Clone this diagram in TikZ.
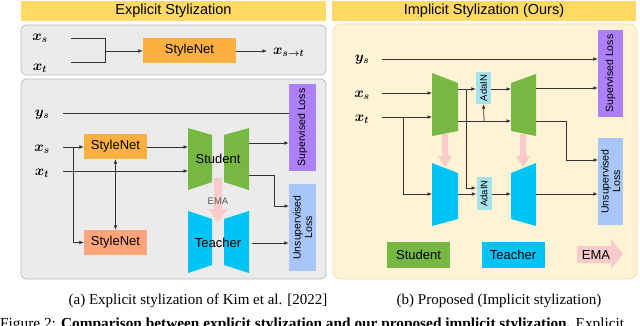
\documentclass[tikz,border=0pt]{standalone}
\usepackage{fontspec}
\setmainfont{Liberation Serif}
\setsansfont{Liberation Sans}
\usepackage{bm}
\usetikzlibrary{arrows.meta}
\definecolor{titleyellow}{HTML}{FFD966}
\definecolor{panelgray}{HTML}{EBEBEB}
\definecolor{panelgrayline}{HTML}{BDBDBD}
\definecolor{panelcream}{HTML}{FFF3D6}
\definecolor{panelcreamline}{HTML}{F7E0A6}
\definecolor{snorange}{HTML}{FBB040}
\definecolor{snsalmon}{HTML}{FFA57C}
\definecolor{stugreen}{HTML}{77B843}
\definecolor{teacyan}{HTML}{00C4F6}
\definecolor{suppurple}{HTML}{AC80F8}
\definecolor{unsblue}{HTML}{A8C6FA}
\definecolor{adacyan}{HTML}{A6E2EC}
\definecolor{emapink}{HTML}{F8CACA}
\definecolor{linecol}{HTML}{333333}
\begin{document}
\begin{tikzpicture}[x=1pt,y=-1pt,
  conn/.style={draw=linecol,line width=0.75pt},
  arr/.style={conn,-{Latex[length=4.5pt,width=3.8pt]}},
  darr/.style={conn,{Latex[length=4.5pt,width=3.8pt]}-{Latex[length=4.5pt,width=3.8pt]}},
  titlebar/.style={rectangle,fill=titleyellow,minimum width=305pt,minimum height=20pt,inner sep=0pt,font=\sffamily\fontsize{14.5}{16}\selectfont},
  mlbl/.style={inner sep=0pt,font=\fontsize{14}{16}\selectfont},
  snbox/.style={rectangle,minimum width=63pt,minimum height=25pt,inner sep=0pt,font=\sffamily\fontsize{13}{15}\selectfont},
  lossbox/.style={rectangle,rotate=90,minimum width=87pt,inner sep=0pt,align=center,font=\sffamily\fontsize{10.5}{11.5}\selectfont},
  adabox/.style={rectangle,rotate=90,fill=adacyan,minimum width=32pt,minimum height=15pt,inner sep=0pt,font=\sffamily\fontsize{9.5}{10}\selectfont},
  nettext/.style={inner sep=0pt,font=\sffamily\fontsize{13}{15}\selectfont},
  legbox/.style={rectangle,minimum width=63pt,minimum height=26pt,inner sep=0pt,font=\sffamily\fontsize{13}{15}\selectfont},
  captext/.style={anchor=base,inner sep=0pt,font=\fontsize{15}{18}\selectfont}
]
\useasboundingbox (0,0) rectangle (640,326);
\clip (0,0) rectangle (640,326);
\fill[white] (0,0) rectangle (640,326);

%% ---------------- Left: explicit stylization ----------------
\node[titlebar] (t1) at (173.5,11) {Explicit Stylization};
\draw[fill=panelgray,draw=panelgrayline,line width=0.8pt,rounded corners=5pt] (21,25) rectangle (326,75);

\node[mlbl] (xs1) at (40,38) {$\bm{x_s}$};
\node[mlbl] (xt1) at (40,68) {$\bm{x_t}$};
\coordinate (xs1s) at (71,38);
\coordinate (xt1s) at (71,62);
\coordinate (j1) at (105,51);
\node[snbox,fill=snorange,minimum width=93pt] (sn0) at (189.5,50.5) {StyleNet};
\node[mlbl,anchor=west] (xst) at (273,52) {$\bm{x_{s\rightarrow t}}$};
\coordinate (xstin) at (267,51);
\draw[conn] (xs1s) -- (105,38) -- (105,62) -- (xt1s);
\draw[arr] (j1) -- (sn0.west |- j1);
\draw[arr] (sn0.east |- xstin) -- (xstin);

\draw[fill=panelgray,draw=panelgrayline,line width=0.8pt,rounded corners=5pt] (21,79) rectangle (326,279);

\node[mlbl] (ys2) at (42,115) {$\bm{y_s}$};
\node[mlbl] (xs2) at (42,149) {$\bm{x_s}$};
\node[mlbl] (xt2) at (42,173) {$\bm{x_t}$};

\node[lossbox,fill=suppurple,minimum height=27pt] (sl1) at (302.5,127.5) {Supervised Loss};
\node[lossbox,fill=unsblue,minimum height=27pt] (ul1) at (302.5,227.5) {Unsupervised\\Loss};

\node[snbox,fill=snorange] (sn1) at (115.5,146.5) {StyleNet};
\node[snbox,fill=snsalmon] (sn2) at (115.5,242.5) {StyleNet};

% student / teacher trapezoids
\fill[stugreen] (188,128) -- (212,135) -- (212,182) -- (188,190) -- cycle;
\fill[stugreen] (224,135) -- (249,128) -- (249,190) -- (224,182) -- cycle;
\fill[teacyan] (188,211) -- (212,219) -- (212,265) -- (188,273) -- cycle;
\fill[teacyan] (224,219) -- (249,211) -- (249,273) -- (224,265) -- cycle;
% EMA arrow
\fill[emapink] (214,178) -- (222,178) -- (222,209) -- (227,209) -- (218,223) -- (209,209) -- (214,209) -- cycle;
\node[nettext] (stu1) at (218,159) {Student};
\node[nettext] (tea1) at (218,243) {Teacher};
\node[inner sep=0pt,font=\sffamily\fontsize{9.5}{10}\selectfont,text=black!65] (ema1) at (218,201) {EMA};

\coordinate (ys2s) at (63,113);
\coordinate (xs2s) at (63,147);
\coordinate (xt2s) at (63,171);
\coordinate (br1) at (73,147);
\coordinate (stuin1) at (188,147);
\coordinate (stuin2) at (188,171);
\coordinate (so1) at (249,143);
\coordinate (so2) at (249,175);
\coordinate (to1) at (252,243);
\draw[conn] (ys2s) -- (ys2s -| sl1.north);
\draw[arr] (xs2s) -- (xs2s -| sn1.west);
\draw[arr] (br1) |- (br1 |- sn2.west) -- (sn2.west);
\draw[darr] (sn1.south) -- (sn2.north);
\draw[arr] (sn1.east |- stuin1) -- (stuin1);
\draw[arr] (xt2s) -- (stuin2);
\draw[arr] (so1) -- (so1 -| sl1.north);
\draw[arr] (so2) -- (274,175) -- (274,206) -- (289,206);
\draw[arr] (to1) -- (to1 -| ul1.north);

%% ---------------- Right: implicit stylization ----------------
\node[titlebar,minimum width=304pt] (t2) at (484,11) {Implicit Stylization (Ours)};
\draw[fill=panelcream,draw=panelcreamline,line width=0.8pt,rounded corners=8pt] (333,24) rectangle (637,279);

\node[mlbl] (ys3) at (362,60) {$\bm{y_s}$};
\node[mlbl] (xs3) at (362,95) {$\bm{x_s}$};
\node[mlbl] (xt3) at (362,119) {$\bm{x_t}$};

\node[lossbox,fill=suppurple,minimum height=25pt] (sl2) at (610.5,73.5) {Supervised Loss};
\node[lossbox,fill=unsblue,minimum height=25pt] (ul2) at (610.5,181.5) {Unsupervised\\Loss};

% EMA arrows
\fill[emapink] (442,134) -- (448,134) -- (448,156) -- (452,156) -- (445,167) -- (438,156) -- (442,156) -- cycle;
\fill[emapink] (520,134) -- (526,134) -- (526,156) -- (530,156) -- (523,167) -- (516,156) -- (520,156) -- cycle;

% encoders / decoders
\fill[stugreen] (432,73) -- (458,83) -- (458,131) -- (432,136) -- cycle;
\fill[stugreen] (511,83) -- (536,74) -- (536,136) -- (511,131) -- cycle;
\fill[teacyan] (432,163) -- (458,173) -- (458,219) -- (432,226) -- cycle;
\fill[teacyan] (511,173) -- (536,163) -- (536,226) -- (511,219) -- cycle;

\node[adabox] (ada1) at (483.5,88) {AdaIN};
\node[adabox] (ada2) at (484,193.5) {AdaIN};

\coordinate (ys3s) at (382,59);
\coordinate (xs3s) at (382,93);
\coordinate (xt3s) at (382,117);
\coordinate (br3) at (403,117);
\coordinate (enc1in1) at (432,93);
\coordinate (enc1in2) at (432,117);
\coordinate (enc2in) at (432,194);
\coordinate (enc1o1) at (458,89);
\coordinate (br4) at (466,89);
\coordinate (enc1o2) at (458,121);
\coordinate (br5) at (484,121);
\coordinate (dec1in1) at (511,89);
\coordinate (dec1in2) at (511,121);
\coordinate (dec1o1) at (536,88);
\coordinate (dec1o2) at (536,121);
\coordinate (enc2o) at (458,194);
\coordinate (dec2in) at (511,194);
\coordinate (dec2o) at (536,194);

\draw[arr] (ys3s) -- (ys3s -| sl2.north);
\draw[arr] (xs3s) -- (enc1in1);
\draw[arr] (xt3s) -- (enc1in2);
\draw[arr] (br3) |- (enc2in);
\draw[arr] (enc1o1) -- (enc1o1 -| ada1.north);
\draw[arr] (br4) |- (476,188);
\draw[arr] (enc1o2) -- (dec1in2);
\draw[arr] (br5) -- (ada1.west);
\draw[arr] (ada1.south |- dec1in1) -- (dec1in1);
\draw[arr] (dec1o1) -- (dec1o1 -| sl2.north);
\draw[arr] (dec1o2) -- (566,121) -- (566,160) -- (598,160);
\draw[arr] (enc2o) -- (enc2o -| ada2.north);
\draw[arr] (ada2.south |- dec2in) -- (dec2in);
\draw[arr] (dec2o) -- (dec2o -| ul2.north);

% legend
\node[legbox,fill=stugreen] (legs) at (418.5,255) {Student};
\node[legbox,fill=teacyan] (legt) at (513,255) {Teacher};
\fill[emapink] (577,246) -- (611,246) -- (611,239) -- (623,254) -- (611,269) -- (611,263) -- (577,263) -- cycle;
\node[nettext] (lege) at (596,255) {EMA};

%% ---------------- captions ----------------
\node[captext] (capa) at (198,304) {(a) Explicit stylization of Kim et al. [2022]};
\node[captext] (capb) at (499,304) {(b) Proposed (Implicit stylization)};
\node[anchor=base west,inner sep=0pt] (fig) at (0,328) {\resizebox{624pt}{!}{\fontsize{13}{15}\selectfont Figure 2: \textbf{Comparison between explicit stylization and our proposed implicit stylization.} Explicit}};
\end{tikzpicture}
\end{document}
